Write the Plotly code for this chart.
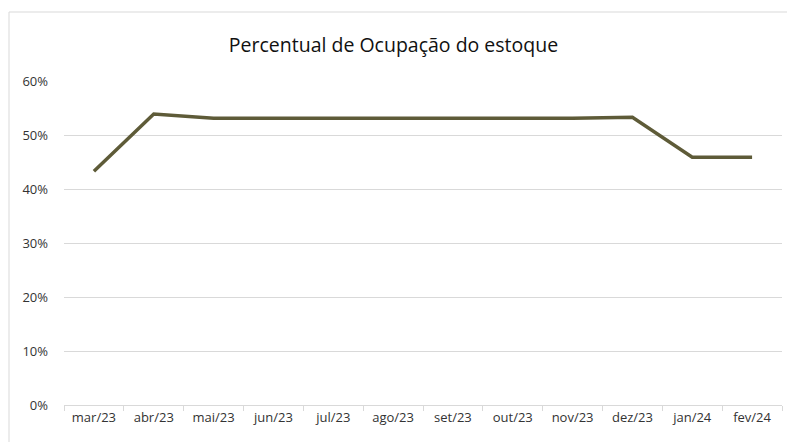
import plotly.graph_objects as go

categories = ["mar/23", "abr/23", "mai/23", "jun/23", "jul/23", "ago/23",
              "set/23", "out/23", "nov/23", "dez/23", "jan/24", "fev/24"]
ocupacao = [0.433, 0.539, 0.531, 0.531, 0.531, 0.531,
            0.531, 0.531, 0.531, 0.533, 0.459, 0.459]
y_ticks = [0, 0.1, 0.2, 0.3, 0.4, 0.5, 0.6]
y_labels = ["0%", "10%", "20%", "30%", "40%", "50%", "60%"]

idx = list(range(len(categories)))

fig = go.Figure()
fig.add_trace(go.Scatter(
    x=idx, y=ocupacao, mode="lines",
    line=dict(color="#5e5b38", width=3.5),
    hoverinfo="skip"))

font_family = "Open Sans, Noto Sans, sans-serif"

fig.update_layout(
    width=787, height=442,
    margin=dict(l=64, r=5, t=81, b=37),
    paper_bgcolor="white", plot_bgcolor="white",
    showlegend=False,
    title=dict(text="Percentual de Ocupação do estoque",
               x=0.5, xanchor="center", y=0.897, yanchor="middle",
               font=dict(family=font_family, size=19.5, color="#111111")),
    xaxis=dict(
        range=[-0.5, len(categories) - 0.5],
        tickmode="array", tickvals=idx, ticktext=categories,
        ticks="", showgrid=False, zeroline=False,
        showline=True, linecolor="#d9d9d9", linewidth=1,
        tickfont=dict(family=font_family, size=13, color="#333333"),
        minor=dict(tick0=-0.5, dtick=1, ticks="outside", ticklen=5,
                   tickcolor="#d9d9d9", showgrid=False),
        fixedrange=True),
    yaxis=dict(
        range=[0, 0.6],
        tickmode="array", tickvals=y_ticks, ticktext=y_labels,
        showgrid=True, gridcolor="#d9d9d9", gridwidth=1,
        zeroline=False, showline=False, ticks="",
        ticklabelstandoff=15,
        tickfont=dict(family=font_family, size=13, color="#333333"),
        fixedrange=True),
    shapes=[dict(type="rect", xref="paper", yref="paper",
                 x0=(9 - 64) / 718, x1=(830 - 64) / 718,
                 y0=-0.2, y1=(405 - 12) / 324,
                 line=dict(color="#d9d9d9", width=1), layer="below")],
)

fig.write_html("out.html",
               config={"displayModeBar": False},
               post_script="document.body.style.margin='0';document.body.style.overflow='hidden';")
